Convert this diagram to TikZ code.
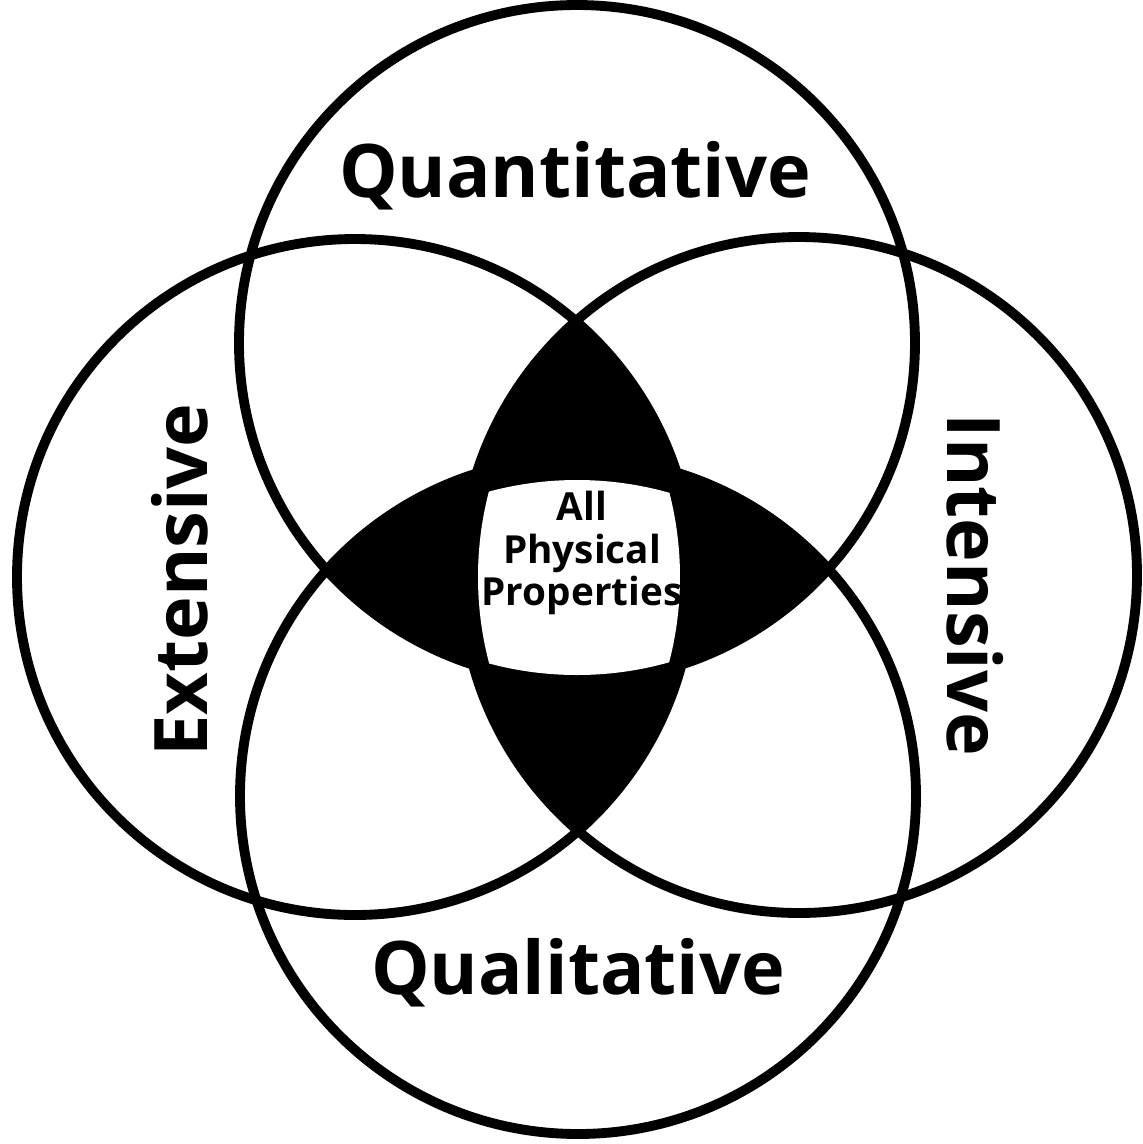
\documentclass[tikz,border=0pt]{standalone}
\usepackage{fontspec}
\setmainfont{Open Sans}
\begin{document}
\begin{tikzpicture}[x=0.01cm,y=-0.01cm,
  ring/.style={draw=black,line width=2.8pt},
  biglabel/.style={font=\bfseries\fontsize{21}{24}\selectfont,inner sep=0pt},
  smalllabel/.style={font=\bfseries\fontsize{11}{12}\selectfont,align=center,inner sep=0pt}]
\useasboundingbox[fill=white] (0,0) rectangle (1143,1144);
\coordinate (ct) at (577,343);
\coordinate (cb) at (578,796);
\coordinate (cl) at (355,577);
\coordinate (cr) at (799,575);
\def\rt{338}\def\rb{338}\def\rl{338}\def\rr{338}
% black lenses
\begin{scope}
  \clip (cl) circle[radius=\rl];
  \fill[black] (cr) circle[radius=\rr];
\end{scope}
\begin{scope}
  \clip (ct) circle[radius=\rt];
  \fill[black] (cb) circle[radius=\rb];
\end{scope}
\draw[ring] (ct) circle[radius=\rt];
\draw[ring] (cb) circle[radius=\rb];
\draw[ring] (cl) circle[radius=\rl];
\draw[ring] (cr) circle[radius=\rr];
% white centre
\begin{scope}
  \clip (816,577) circle[radius=338];
  \clip (342,577) circle[radius=338];
  \clip (577,818) circle[radius=338];
  \fill[white] (577,337) circle[radius=338];
\end{scope}
\node[biglabel] (quant) at (575,176) {Quantitative};
\node[biglabel] (qual) at (578,973) {Qualitative};
\node[biglabel,rotate=90] (ext) at (180,580) {Extensive};
\node[biglabel,rotate=-90] (int) at (975,585) {Intensive};
\node[smalllabel] (all) at (582,553) {All\\Physical\\Properties};
\end{tikzpicture}
\end{document}
